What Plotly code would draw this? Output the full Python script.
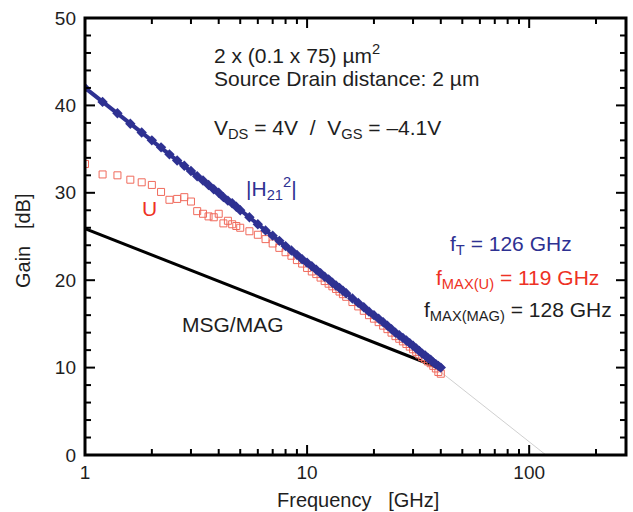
import math
import plotly.graph_objects as go

# Frequency sweep points [GHz]
freq = [1.0, 1.2, 1.4, 1.6, 1.8, 2.0, 2.2, 2.4, 2.6, 2.8, 3.0, 3.2, 3.4, 3.6, 3.8, 4.0,
        4.2, 4.4, 4.6, 4.8, 5.0, 5.5, 6.0, 6.5, 7.0, 7.5, 8.0, 8.5, 9.0, 9.5, 10.0,
        10.5, 11.0, 11.5, 12.0, 12.5, 13.0, 13.5, 14.0, 14.5, 15.0, 16.0, 17.0, 18.0,
        19.0, 20.0, 21.0, 22.0, 23.0, 24.0, 25.0, 26.0, 27.0, 28.0, 29.0, 30.0, 31.0,
        32.0, 33.0, 34.0, 35.0, 36.0, 37.0, 38.0, 39.0, 40.0]

# |H21|^2 [dB]
h21 = [42.0, 40.4, 39.1, 37.9, 36.9, 36.0, 35.2, 34.4, 33.7, 33.1, 32.5, 31.9, 31.4, 30.9,
       30.4, 30.0, 29.5, 29.1, 28.8, 28.4, 28.0, 27.2, 26.4, 25.7, 25.1, 24.5, 23.9, 23.4,
       22.9, 22.4, 22.0, 21.6, 21.2, 20.8, 20.4, 20.1, 19.7, 19.4, 19.1, 18.8, 18.5, 17.9,
       17.4, 16.9, 16.4, 16.0, 15.6, 15.2, 14.8, 14.4, 14.0, 13.7, 13.4, 13.1, 12.8, 12.5,
       12.2, 11.9, 11.6, 11.4, 11.1, 10.9, 10.6, 10.4, 10.2, 10.0]

# Unilateral gain U [dB]
u_gain = [33.3, 32.1, 32.0, 31.5, 31.2, 30.9, 30.1, 29.2, 29.3, 29.5, 29.0, 27.9, 27.6, 27.3,
          27.2, 27.6, 26.5, 26.8, 26.4, 26.2, 26.0, 25.6, 25.2, 24.7, 24.2, 23.7, 23.2, 22.8,
          22.3, 21.9, 21.4, 21.0, 20.7, 20.3, 19.9, 19.6, 19.3, 19.0, 18.7, 18.4, 18.1, 17.5,
          17.0, 16.5, 16.0, 15.6, 15.2, 14.8, 14.4, 14.0, 13.6, 13.3, 13.0, 12.7, 12.4, 12.1,
          11.8, 11.5, 11.2, 11.0, 10.7, 10.5, 10.2, 9.9, 9.5, 9.3]

# MSG/MAG [dB]
msg_freq = [1.0, 2.0, 5.0, 10.0, 20.0, 30.0, 38.0]
msg_gain = [25.9, 22.9, 18.9, 15.9, 12.9, 11.1, 10.1]

# -20 dB/dec extrapolation
extra_freq = [40.0, 119.0]
extra_gain = [9.5, 0.0]

# axis ticks
x_major_ticks = [10, 100]
x_minor_ticks = [2, 3, 4, 5, 6, 7, 8, 9, 20, 30, 40, 50, 60, 70, 80, 90, 200]
y_major_ticks = [10, 20, 30, 40]
y_minor_ticks = [2, 4, 6, 8, 12, 14, 16, 18, 22, 24, 26, 28, 32, 34, 36, 38, 42, 44, 46, 48]
X_LOG_MAX = 2.436
Y_MAX = 50

NAVY = "#2E3192"
RED = "#EE3124"
TXT = "#1E1E1E"
FONT = "Liberation Sans, Arial, Helvetica, sans-serif"

fig = go.Figure()
fig.add_trace(go.Scatter(x=extra_freq, y=extra_gain, mode="lines",
                         line=dict(color="#D0D0D0", width=1)))
fig.add_trace(go.Scatter(x=msg_freq, y=msg_gain, mode="lines",
                         line=dict(color="black", width=3)))
fig.add_trace(go.Scatter(x=freq, y=u_gain, mode="markers",
                         marker=dict(symbol="square-open", size=7, color="#F06A5C",
                                     line=dict(width=1, color="#F06A5C"))))
fig.add_trace(go.Scatter(x=freq, y=h21, mode="lines+markers",
                         line=dict(color=NAVY, width=4),
                         marker=dict(symbol="diamond", size=8, color=NAVY)))

L, R, T, B = 85, 626, 18, 455
W, H = R - L, B - T


def px(x, y):
    return (x - L) / W, (B - y) / H


def ann(text, x, y, color=TXT, xanchor="left", size=21, angle=0):
    ax, ay = px(x, y)
    fig.add_annotation(text=text, x=ax, y=ay, xref="paper", yref="paper",
                       xanchor=xanchor, yanchor="middle", showarrow=False,
                       textangle=angle,
                       font=dict(family=FONT, size=size, color=color))


ann("2 x (0.1 x 75) µm<sup>2</sup>", 212, 54)
ann("Source Drain distance: 2 µm", 212, 78)
ann("V<sub>DS</sub> = 4V\u00a0\u00a0/\u00a0\u00a0V<sub>GS</sub> = \u20134.1V", 212, 129)
ann("|H<sub>21</sub><sup>2</sup>|", 244, 189, color=NAVY)
ann("U", 140, 208, color=RED)
ann("f<sub>T</sub> = 126 GHz", 574, 245, color=NAVY, xanchor="right")
ann("f<sub>MAX(U)</sub> = 119 GHz", 434, 279, color=RED)
ann("f<sub>MAX(MAG)</sub> = 128 GHz", 422, 311)
ann("MSG/MAG", 180, 324)
# axis titles
ann("Frequency\u00a0\u00a0\u00a0[GHz]", 358, 500, xanchor="center", size=20)
ann("Gain\u00a0\u00a0\u00a0[dB]", 23, 241, xanchor="center", size=20, angle=-90)

# frame and inward ticks (axis decoration)
fig.add_shape(type="rect", xref="paper", yref="paper", x0=0, x1=1, y0=0, y1=1,
              line=dict(color="black", width=3), layer="above")
MAJ, MIN = 10, 6


def xtick(v, length):
    p = math.log10(v) / X_LOG_MAX
    for base, sgn in ((0, 1), (1, -1)):
        fig.add_shape(type="line", xref="paper", yref="paper", x0=p, x1=p,
                      y0=base, y1=base + sgn * length / H,
                      line=dict(color="black", width=2), layer="above")


def ytick(v, length):
    p = v / Y_MAX
    for base, sgn in ((0, 1), (1, -1)):
        fig.add_shape(type="line", xref="paper", yref="paper", y0=p, y1=p,
                      x0=base, x1=base + sgn * length / W,
                      line=dict(color="black", width=2), layer="above")


for v in x_major_ticks:
    xtick(v, MAJ)
for v in x_minor_ticks:
    xtick(v, MIN)
for v in y_major_ticks:
    ytick(v, MAJ)
for v in y_minor_ticks:
    ytick(v, MIN)

fig.update_layout(
    width=633, height=512,
    margin=dict(l=L, r=633 - R, t=T, b=512 - B),
    paper_bgcolor="white", plot_bgcolor="rgba(0,0,0,0)",
    showlegend=False,
    xaxis=dict(type="log", range=[0, X_LOG_MAX], tick0=0, dtick=1,
               showline=False, ticks="", showgrid=False, zeroline=False, automargin=False,
               tickfont=dict(family=FONT, size=19, color=TXT), ticklabelstandoff=4),
    yaxis=dict(range=[0, Y_MAX], tick0=0, dtick=10,
               showline=False, ticks="", showgrid=False, zeroline=False, automargin=False,
               tickfont=dict(family=FONT, size=19, color=TXT), ticklabelstandoff=8),
)

fig.write_html("out.html", config={"displayModeBar": False},
               post_script="document.body.style.margin='0';document.body.style.padding='0';")
